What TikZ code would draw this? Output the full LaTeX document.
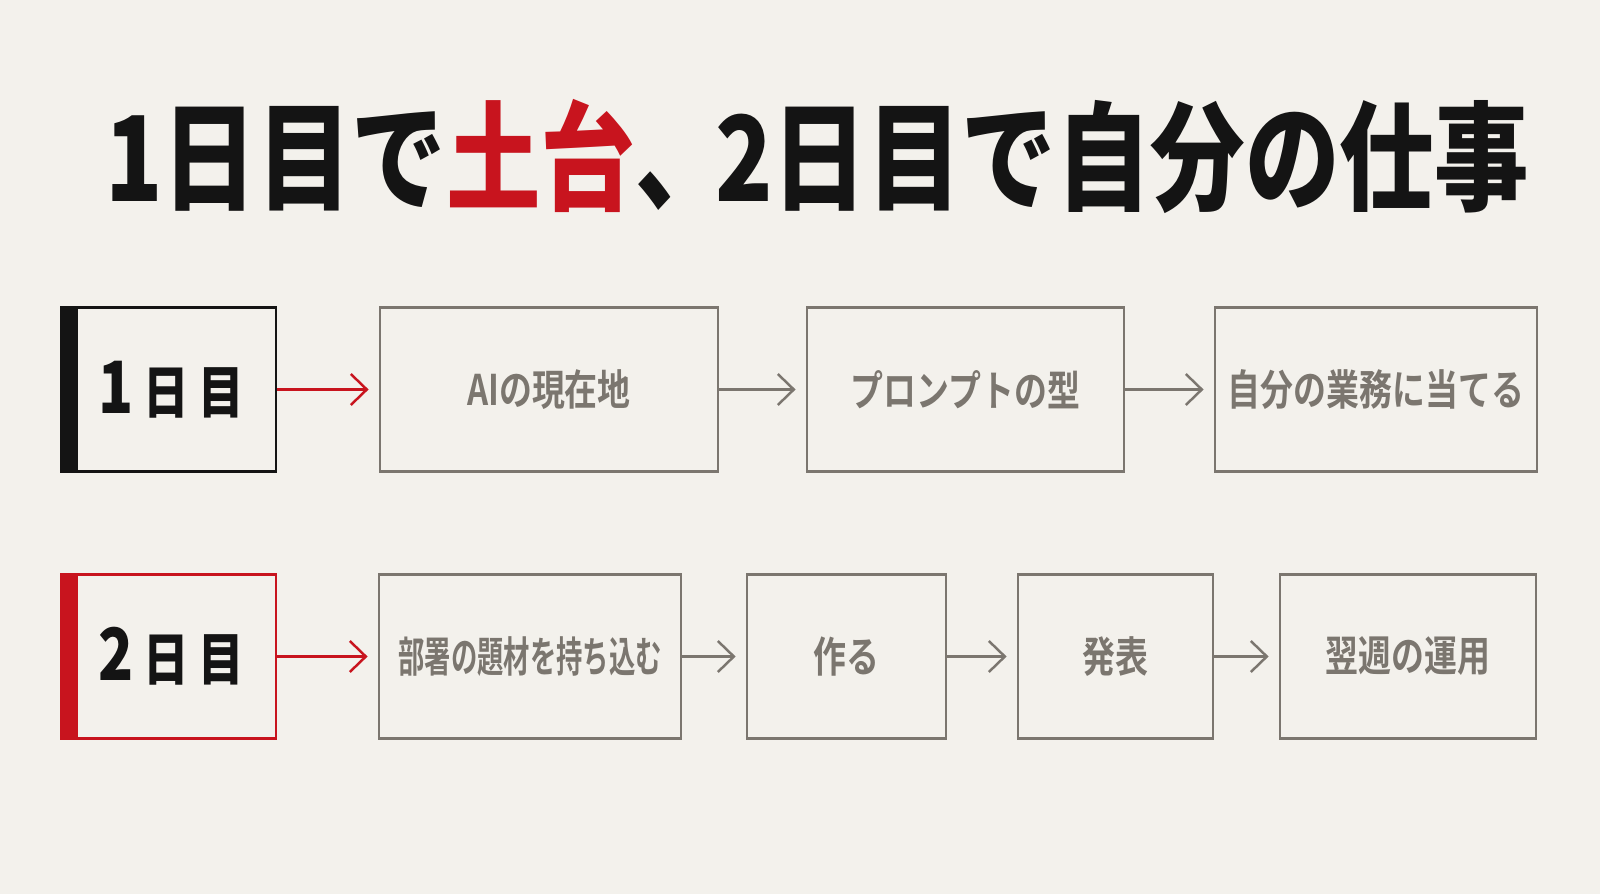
\documentclass[tikz,border=0pt]{standalone}
\usepackage{fontspec}
\usetikzlibrary{arrows.meta}
\IfFontExistsTF{Noto Sans CJK JP Black}
  {\newfontfamily\jpheavy[FakeStretch=0.8]{Noto Sans CJK JP Black}}
  {\newfontfamily\jpheavy[FakeStretch=0.8]{Noto Sans CJK JP Bold}}
\newfontfamily\jpbold[FakeStretch=0.78]{Noto Sans CJK JP Bold}
\definecolor{paper}{HTML}{F3F1EC}
\definecolor{dark}{HTML}{141414}
\definecolor{accent}{HTML}{C8141E}
\definecolor{ink}{HTML}{7B766F}
\newcommand{\daylabel}[1]{\hspace{0.06cm}{\fontsize{20.5}{22}\selectfont #1}\hspace{0.1cm}{\fontsize{16.2}{18}\selectfont 日\hspace{0.09cm}目}}

\begin{document}
\begin{tikzpicture}[x=0.01cm, y=-0.01cm,
  daybox/.style={draw=#1, line width=0.6pt, minimum width=2.15cm, minimum height=1.64cm,
    inner sep=0pt, text=dark, font=\jpheavy,
    path picture={\fill[#1] (path picture bounding box.south west)
      rectangle ([xshift=0.17cm]path picture bounding box.north west);}},
  topicbox/.style={draw=ink, line width=0.75pt, minimum height=1.64cm, inner sep=0pt,
    text=ink, font=\jpbold\fontsize{12}{14}\selectfont},
  flow/.style={line width=0.7pt, shorten >=0.1cm,
    -{Straight Barb[length=1.6mm, width=3.1mm, line width=0.7pt]}}]
  \fill[paper] (0, 0) rectangle (1600, 894);

  % title
  \node[font=\jpheavy\fontsize{33.6}{40}\selectfont, text=dark] (headline) at (817, 156)
    {1日目で\textcolor{accent}{土台}、\hspace{-0.15cm}2日目で自分の仕事};

  % day 1
  \node[daybox=dark] (day1) at (168.5, 389.5) {\daylabel{1}};
  \foreach[count=\i] \x/\w/\t in {549/3.38/AIの現在地, 965.5/3.17/プロンプトの型,
      1376/3.22/自分の業務に当てる}
    \node[topicbox, minimum width=\w cm] (a\i) at (\x, 389.5) {\t};
  \draw[flow, draw=accent] (day1.east) -- (a1.west);
  \foreach \i/\j in {1/2, 2/3}
    \draw[flow, draw=ink] (a\i.east) -- (a\j.west);

  % day 2
  \node[daybox=accent] (day2) at (168.5, 656.5) {\daylabel{2}};
  \foreach[count=\i] \x/\w/\t in {530/3.02/\scalebox{0.8}[1]{部署の題材を持ち込む}, 846.5/1.99/作る,
      1115.5/1.95/発表, 1408/2.56/翌週の運用}
    \node[topicbox, minimum width=\w cm] (b\i) at (\x, 656.5) {\t};
  \draw[flow, draw=accent] (day2.east) -- (b1.west);
  \foreach \i/\j in {1/2, 2/3, 3/4}
    \draw[flow, draw=ink] (b\i.east) -- (b\j.west);
\end{tikzpicture}
\end{document}
